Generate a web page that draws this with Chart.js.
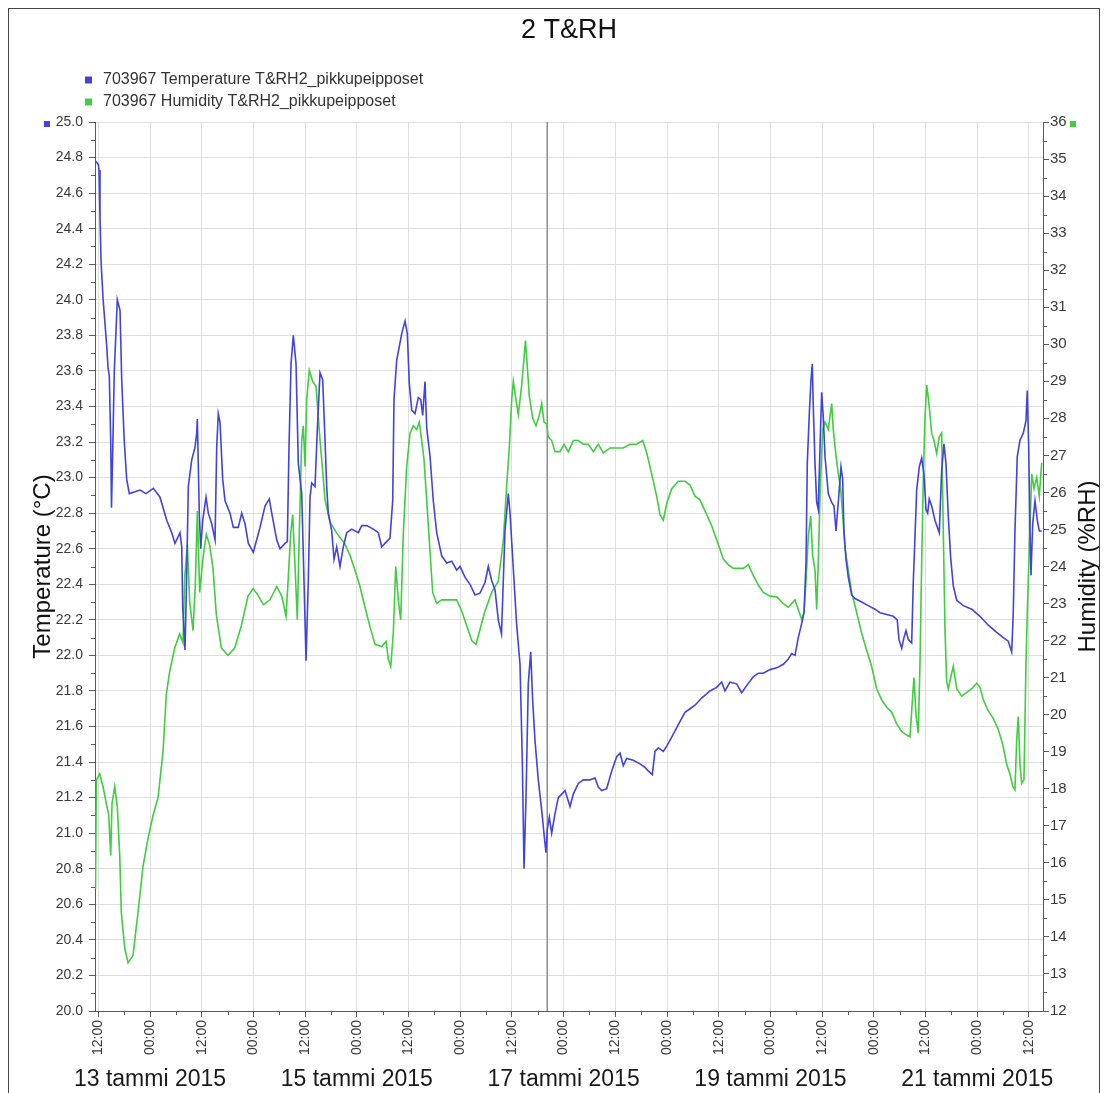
<!DOCTYPE html>
<html>
<head>
<meta charset="utf-8">
<script src="https://cdn.jsdelivr.net/npm/chart.js@4.4.1/dist/chart.umd.min.js"></script>
<style>
html,body{margin:0;padding:0;background:#fff;}
#wrap{position:relative;width:1107px;height:1093px;}
canvas{display:block;}
</style>
</head>
<body>
<div id="wrap"><canvas id="c" width="1107" height="1093"></canvas></div>
<script>
// ---- texts ----
const chartTitle = '2 T&RH';
const seriesNames = ['703967 Temperature T&RH2_pikkupeipposet', '703967 Humidity T&RH2_pikkupeipposet'];
const leftAxisTitle = 'Temperature (°C)';
const rightAxisTitle = 'Humidity (%RH)';

// ---- x: hours since 12 Jan 2015 00:00 ----
const timeTicks = [12,24,36,48,60,72,84,96,108,120,132,144,156,168,180,192,204,216,228];
const timeTickLabels = ['12:00','00:00','12:00','00:00','12:00','00:00','12:00','00:00','12:00','00:00','12:00','00:00','12:00','00:00','12:00','00:00','12:00','00:00','12:00'];
const dateTicks = [24,72,120,168,216];
const dateLabels = ['13 tammi 2015','15 tammi 2015','17 tammi 2015','19 tammi 2015','21 tammi 2015'];
const tempTicks = [20.0,20.2,20.4,20.6,20.8,21.0,21.2,21.4,21.6,21.8,22.0,22.2,22.4,22.6,22.8,23.0,23.2,23.4,23.6,23.8,24.0,24.2,24.4,24.6,24.8,25.0];
const humTicks = [12,13,14,15,16,17,18,19,20,21,22,23,24,25,26,27,28,29,30,31,32,33,34,35,36];
const cursorHour = 116.2;

// ---- Temperature series ----
const tempHours = [
11.40,12.00,12.16,12.39,12.63,13.09,13.95,14.25,14.55,14.88,
15.06,15.30,15.71,16.41,17.04,17.43,18.03,18.59,19.20,21.68,
23.07,24.77,26.32,27.88,29.04,29.80,30.96,31.36,31.59,32.12,
32.47,32.89,33.68,34.44,34.84,34.98,35.44,35.77,36.23,37.00,
37.53,38.32,39.09,39.48,39.85,40.25,40.87,41.41,42.57,43.33,
44.49,45.28,46.05,46.82,47.98,49.53,50.69,51.69,52.25,53.41,
54.17,55.33,55.87,56.26,56.73,57.26,57.89,58.42,59.21,59.74,
60.21,60.74,61.14,61.53,62.30,62.83,63.46,64.08,64.62,65.01,
65.38,66.17,66.71,67.33,68.10,68.86,69.65,70.81,72.35,73.14,
74.30,75.83,76.99,77.78,78.54,79.70,80.33,80.63,81.26,82.42,
83.19,83.72,84.18,84.74,85.51,86.27,86.83,87.29,87.83,88.22,
88.99,89.75,90.54,91.70,92.86,94.02,95.18,95.95,97.11,98.27,
99.43,100.59,101.75,102.52,103.31,104.07,104.84,105.58,106.39,107.16,
107.56,108.32,109.11,109.88,110.41,110.81,111.27,111.80,112.36,112.83,
113.36,114.12,114.91,115.52,115.91,116.21,116.68,117.23,118.00,118.77,
119.56,120.32,120.85,121.48,122.25,123.41,124.57,126.12,127.28,128.05,
128.84,130.00,131.16,132.32,133.09,133.85,134.64,136.17,137.73,138.89,
139.66,140.59,141.21,141.98,143.14,143.93,145.09,146.62,148.17,149.33,
150.49,152.05,153.97,155.53,156.69,157.45,158.61,160.17,161.33,162.49,
164.02,165.19,166.35,167.90,169.46,170.99,172.15,172.94,173.71,174.47,
175.26,175.80,176.26,176.56,177.03,177.42,177.72,177.95,178.35,178.74,
179.11,179.51,179.90,180.27,180.67,181.43,182.22,182.76,183.22,183.75,
184.38,184.77,185.07,185.54,186.07,186.86,187.62,189.18,190.71,192.27,
193.43,194.98,196.52,197.44,197.84,198.47,199.00,199.47,200.00,200.79,
201.16,201.56,201.95,202.55,203.11,203.64,204.11,204.50,204.87,205.43,
206.19,207.19,207.75,208.28,208.75,209.29,209.84,210.45,211.24,212.77,
214.72,216.65,218.57,220.52,222.05,223.21,224.00,224.37,224.76,225.30,
225.93,226.69,227.32,227.62,227.95,228.25,228.48,228.88,229.41,229.95,230.41,230.97
];
const tempValues = [
24.78,24.76,24.73,24.47,24.22,24.01,23.74,23.62,23.57,23.20,
22.83,23.10,23.60,24.00,23.94,23.55,23.20,22.99,22.91,22.93,
22.91,22.94,22.89,22.76,22.69,22.63,22.69,22.61,22.27,22.03,
22.40,22.95,23.10,23.17,23.25,23.33,22.80,22.60,22.76,22.89,
22.80,22.74,22.65,23.17,23.36,23.31,22.99,22.87,22.80,22.72,
22.72,22.80,22.74,22.63,22.58,22.72,22.84,22.88,22.80,22.65,
22.60,22.63,22.64,23.17,23.64,23.80,23.64,23.08,22.91,22.42,
21.97,22.42,22.89,22.97,22.95,23.27,23.59,23.55,23.21,22.95,
22.80,22.70,22.54,22.61,22.50,22.61,22.69,22.71,22.69,22.73,
22.73,22.71,22.69,22.61,22.63,22.66,22.87,23.44,23.66,23.81,
23.88,23.81,23.53,23.38,23.36,23.45,23.44,23.35,23.54,23.28,
23.12,22.87,22.69,22.56,22.52,22.53,22.48,22.50,22.44,22.40,
22.34,22.35,22.41,22.50,22.42,22.37,22.20,22.12,22.70,22.91,
22.80,22.49,22.17,21.95,21.41,20.80,21.20,21.84,22.02,21.74,
21.52,21.30,21.13,20.98,20.89,21.02,21.09,21.00,21.11,21.20,
21.22,21.24,21.20,21.15,21.22,21.28,21.30,21.30,21.31,21.26,
21.24,21.25,21.35,21.43,21.45,21.38,21.42,21.41,21.39,21.37,
21.35,21.33,21.46,21.48,21.46,21.49,21.54,21.61,21.68,21.70,
21.72,21.76,21.80,21.82,21.85,21.80,21.85,21.84,21.79,21.83,
21.88,21.90,21.90,21.92,21.93,21.95,21.98,22.01,22.00,22.10,
22.18,22.24,22.52,23.08,23.36,23.55,23.64,23.40,23.08,22.86,
22.82,23.17,23.48,23.34,23.12,22.91,22.86,22.84,22.70,22.86,
23.06,22.99,22.70,22.54,22.44,22.34,22.32,22.30,22.28,22.26,
22.24,22.23,22.22,22.20,22.09,22.04,22.10,22.14,22.09,22.07,
22.41,22.67,22.93,23.06,23.11,23.02,22.82,22.80,22.88,22.84,
22.76,22.69,23.04,23.19,23.08,22.78,22.55,22.39,22.31,22.28,
22.26,22.22,22.17,22.13,22.10,22.08,22.02,22.24,22.70,23.12,
23.21,23.25,23.32,23.49,23.17,22.70,22.45,22.74,22.87,22.76,22.70,22.70
];

// ---- Humidity series ----
const humHours = [
11.35,11.54,12.32,13.09,13.86,14.41,14.88,15.18,15.81,16.41,
16.97,17.34,18.13,18.89,20.05,21.21,22.37,23.54,24.70,25.86,
27.02,27.78,28.57,29.73,30.89,31.66,32.05,32.66,33.21,33.98,
34.51,34.98,35.53,36.30,37.07,37.86,38.62,39.39,40.55,42.10,
43.66,45.19,46.75,47.91,48.76,50.30,51.85,53.41,54.57,55.57,
56.10,56.66,57.12,57.66,58.19,58.65,59.21,59.58,59.98,60.37,
60.97,61.76,62.53,63.06,63.46,63.85,64.62,65.78,67.33,69.26,
70.42,71.58,72.74,73.90,75.06,76.22,77.78,78.78,79.31,79.87,
80.47,81.03,81.63,82.19,82.79,83.58,84.35,85.11,85.90,86.50,
87.06,87.59,88.22,88.99,89.61,90.54,91.70,93.63,95.18,96.35,
97.51,98.67,99.66,100.59,101.75,103.31,104.84,106.00,106.79,107.39,
107.95,108.32,108.95,109.48,110.27,111.15,112.04,112.83,113.59,114.40,
114.91,115.45,116.07,116.44,117.23,118.00,119.16,120.09,121.09,122.25,
123.41,124.57,125.73,126.89,128.05,129.21,130.77,132.32,133.85,135.41,
136.96,138.36,139.28,140.44,141.60,142.37,143.14,143.93,145.09,146.62,
148.17,149.33,150.49,151.65,152.81,154.37,155.90,157.06,158.22,159.38,
160.54,161.70,162.87,164.02,165.19,166.35,167.90,169.46,170.99,172.15,
173.71,174.47,175.26,175.80,176.26,176.79,177.35,177.81,178.35,178.74,
179.11,179.51,180.13,180.67,181.43,182.22,182.59,183.22,183.75,184.31,
184.77,185.31,186.07,186.86,188.02,189.18,190.34,191.50,192.66,193.82,
194.98,196.14,197.30,198.47,199.63,200.39,201.02,201.32,201.79,202.32,
202.72,203.11,203.48,203.88,204.27,204.80,205.43,205.96,206.59,207.19,
207.75,208.12,208.52,208.91,209.29,209.84,210.45,211.24,212.40,213.56,
214.72,215.88,216.65,217.42,218.57,219.73,220.89,221.91,222.84,223.60,
224.23,224.76,225.16,225.53,225.93,226.32,226.85,227.32,227.62,228.09,
228.65,229.18,229.80,230.41,230.97
];
const humValues = [
15.3,18.24,18.4,18.06,17.6,17.3,16.2,17.6,18.06,17.5,
16.2,14.66,13.7,13.3,13.5,14.66,15.9,16.66,17.28,17.76,
19.0,20.55,21.17,21.8,22.18,21.94,23.7,24.6,23.04,22.27,
23.5,25.5,23.3,24.24,24.87,24.57,23.95,22.7,21.8,21.6,
21.8,22.4,23.2,23.4,23.28,22.97,23.1,23.46,23.2,22.66,
23.7,24.9,25.4,24.0,22.56,24.9,27.4,27.8,26.7,28.5,
29.3,29.0,28.86,28.05,27.4,26.9,25.8,25.2,24.9,24.6,
24.3,23.9,23.46,22.9,22.37,21.9,21.84,21.98,21.5,21.3,
22.2,24.0,23.1,22.56,24.9,26.7,27.6,27.8,27.7,27.9,
27.4,26.9,25.8,24.4,23.3,23.0,23.1,23.1,23.1,22.8,
22.4,22.0,21.9,22.3,22.8,23.3,23.6,24.7,26.2,27.2,
28.5,29.0,28.5,28.1,28.9,30.1,28.6,28.0,27.8,28.1,
28.4,27.9,27.84,27.5,27.4,27.1,27.1,27.3,27.1,27.4,
27.4,27.3,27.3,27.1,27.3,27.07,27.2,27.2,27.2,27.3,
27.3,27.4,27.07,26.5,25.9,25.4,25.25,25.7,26.1,26.3,
26.3,26.2,25.9,25.8,25.5,25.1,24.6,24.2,24.05,23.95,
23.95,23.95,24.05,23.76,23.5,23.3,23.2,23.18,23.0,22.9,
23.1,22.84,22.57,22.76,23.6,24.8,25.36,24.27,23.9,22.84,
24.1,25.9,27.7,27.9,27.7,28.4,27.7,27.0,26.5,26.1,
25.4,24.5,23.9,23.3,22.76,22.2,21.74,21.3,20.7,20.4,
20.2,20.07,19.75,19.55,19.45,19.4,20.5,21.0,20.0,19.5,
21.4,24.1,26.34,28.0,28.9,28.4,27.6,27.4,27.05,27.5,
27.6,25.0,22.3,20.9,20.7,21.0,21.3,20.7,20.5,20.6,
20.7,20.85,20.74,20.4,20.1,19.9,19.6,19.2,18.66,18.4,
18.07,17.97,19.3,19.95,18.66,18.15,18.24,21.38,22.76,24.5,
26.5,26.1,26.4,25.9,26.8
];

// ---- styling ----
const FONT = "'Liberation Sans', Arial, sans-serif";
const BLUE = 'rgb(66,66,222)';
const GREEN = 'rgb(62,206,62)';
const AXIS = '#5a5a5a';
const GRID = '#dedede';
const TICKTXT = '#3a3a3a';

const tempData = tempHours.map((h, i) => ({x: h, y: tempValues[i]}));
const humData = humHours.map((h, i) => ({x: h, y: humValues[i]}));
const cursorData = [{x: cursorHour, y: tempTicks[0]}, {x: cursorHour, y: tempTicks[tempTicks.length - 1]}];

const decor = {
  id: 'decor',
  afterDraw(chart) {
    const {ctx, chartArea, scales} = chart;
    const yL = scales.y, yR = scales.y1, xs = scales.x;
    ctx.save();
    // minor ticks
    ctx.strokeStyle = AXIS;
    ctx.lineWidth = 1;
    ctx.beginPath();
    for (let i = 0; i < tempTicks.length - 1; i++) {
      const py = Math.round(yL.getPixelForValue((tempTicks[i] + tempTicks[i + 1]) / 2)) + 0.5;
      ctx.moveTo(chartArea.left - 4, py); ctx.lineTo(chartArea.left, py);
    }
    for (let i = 0; i < humTicks.length - 1; i++) {
      const py = Math.round(yR.getPixelForValue((humTicks[i] + humTicks[i + 1]) / 2)) + 0.5;
      ctx.moveTo(chartArea.right, py); ctx.lineTo(chartArea.right + 4, py);
    }
    for (let i = 0; i < timeTicks.length - 1; i++) {
      const px = Math.round(xs.getPixelForValue((timeTicks[i] + timeTicks[i + 1]) / 2)) + 0.5;
      ctx.moveTo(px, chartArea.bottom); ctx.lineTo(px, chartArea.bottom + 4);
    }
    ctx.stroke();
    // legend
    ctx.font = '16px ' + FONT;
    ctx.textBaseline = 'middle';
    ctx.textAlign = 'left';
    const rows = [80, 102];
    [BLUE, GREEN].forEach((c, i) => {
      ctx.fillStyle = c;
      ctx.fillRect(85, rows[i] - 3.5, 7, 7);
      ctx.fillStyle = '#333';
      ctx.fillText(seriesNames[i], 103, rows[i]);
    });
    // axis colour markers
    ctx.fillStyle = BLUE; ctx.fillRect(44, 121, 6, 6);
    ctx.fillStyle = GREEN; ctx.fillRect(1070, 121, 6, 6);
    // right axis title (reads bottom-to-top)
    ctx.save();
    ctx.translate(1088, (chartArea.top + chartArea.bottom) / 2);
    ctx.rotate(-Math.PI / 2);
    ctx.font = '24px ' + FONT;
    ctx.fillStyle = '#111';
    ctx.textAlign = 'center';
    ctx.textBaseline = 'middle';
    ctx.fillText(rightAxisTitle, 0, 0);
    ctx.restore();
    // frame
    ctx.strokeStyle = '#444';
    ctx.lineWidth = 1;
    ctx.strokeRect(8.5, 8.5, 1091, 1100);
    ctx.restore();
  }
};

new Chart(document.getElementById('c'), {
  type: 'line',
  data: {
    datasets: [
      {label: seriesNames[0], data: tempData, xAxisID: 'x', yAxisID: 'y', borderColor: BLUE, backgroundColor: BLUE, borderWidth: 1.6, pointRadius: 0, tension: 0, order: 1},
      {label: seriesNames[1], data: humData, xAxisID: 'x', yAxisID: 'y1', borderColor: GREEN, backgroundColor: GREEN, borderWidth: 1.6, pointRadius: 0, tension: 0, order: 2},
      {label: 'cursor', data: cursorData, xAxisID: 'x', yAxisID: 'y', borderColor: '#8e8e8e', borderWidth: 1.5, pointRadius: 0, order: 3}
    ]
  },
  options: {
    responsive: false,
    animation: false,
    events: [],
    layout: {padding: 0},
    plugins: {
      legend: {display: false},
      tooltip: {enabled: false},
      title: {
        display: true, text: chartTitle, fullSize: false, color: '#111',
        font: {family: FONT, size: 27, weight: 'normal'},
        padding: {top: 14.8, bottom: 74.8}
      }
    },
    scales: {
      x: {
        type: 'linear', position: 'bottom', weight: 0,
        min: 11.23, max: 231.27,
        afterBuildTicks: s => { s.ticks = timeTicks.map(v => ({value: v})); },
        afterFit: s => { s.height = 55; },
        ticks: {
          autoSkip: false, maxRotation: 90, minRotation: 90, padding: 3,
          color: TICKTXT, font: {family: FONT, size: 14},
          callback: (v, i) => timeTickLabels[i]
        },
        grid: {color: GRID, tickColor: AXIS, tickLength: 6, lineWidth: 1},
        border: {display: true, color: AXIS, width: 1}
      },
      x2: {
        type: 'linear', position: 'bottom', weight: 1,
        min: 11.23, max: 231.27,
        afterBuildTicks: s => { s.ticks = dateTicks.map(v => ({value: v})); },
        afterFit: s => { s.height = 27; },
        ticks: {
          autoSkip: false, maxRotation: 0, minRotation: 0, padding: 0,
          color: '#1a1a1a', font: {family: FONT, size: 23},
          callback: (v, i) => dateLabels[i]
        },
        grid: {display: false, drawTicks: false},
        border: {display: false}
      },
      y: {
        type: 'linear', position: 'left',
        min: 20, max: 25,
        afterBuildTicks: s => { s.ticks = tempTicks.map(v => ({value: v})); },
        afterFit: s => { s.width = 95; },
        ticks: {color: TICKTXT, font: {family: FONT, size: 14}, padding: 6, callback: v => Number(v).toFixed(1)},
        grid: {color: GRID, tickColor: AXIS, tickLength: 6, lineWidth: 1},
        border: {display: true, color: AXIS, width: 1},
        title: {display: true, text: leftAxisTitle, color: '#111', font: {family: FONT, size: 24}, padding: {top: 29, bottom: 0}}
      },
      y1: {
        type: 'linear', position: 'right',
        min: 12, max: 36,
        afterBuildTicks: s => { s.ticks = humTicks.map(v => ({value: v})); },
        afterFit: s => { s.width = 64; },
        ticks: {color: TICKTXT, font: {family: FONT, size: 15}, padding: 1, callback: v => String(v)},
        grid: {drawOnChartArea: false, tickColor: AXIS, tickLength: 6},
        border: {display: true, color: AXIS, width: 1}
      }
    }
  },
  plugins: [decor]
});
</script>
</body>
</html>
